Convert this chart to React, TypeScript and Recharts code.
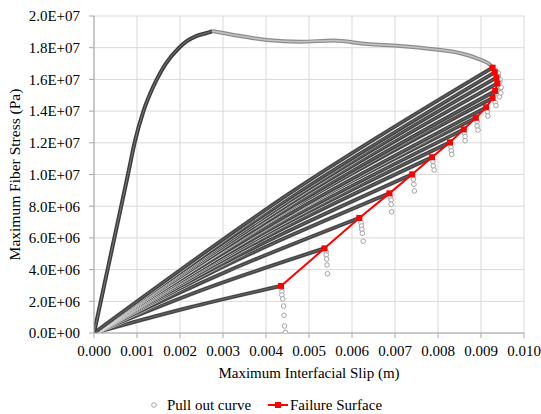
import { ComposedChart, Line, XAxis, YAxis, CartesianGrid } from 'recharts';

// failure surface (red markers)
const failX = [0.00435, 0.00536, 0.00617, 0.00687, 0.0074, 0.00786, 0.00828, 0.0086, 0.00888, 0.00912, 0.00927, 0.00933, 0.00938, 0.00936, 0.00932, 0.00927];
const failY = [2.97e6, 5.34e6, 7.26e6, 8.81e6, 1.001e7, 1.109e7, 1.203e7, 1.285e7, 1.358e7, 1.424e7, 1.483e7, 1.527e7, 1.575e7, 1.611e7, 1.645e7, 1.674e7];

// mid points of the reloading branches (origin -> failure point)
const fanMidX = [0.0022, 0.0027, 0.0031, 0.0034, 0.0037, 0.0039, 0.0041, 0.0043, 0.0044, 0.0046, 0.0046, 0.0047, 0.0047, 0.0047, 0.0047, 0.0046];
const fanMidY = [1.6e6, 2.9e6, 3.9e6, 4.7e6, 5.35e6, 5.9e6, 6.4e6, 6.85e6, 7.25e6, 7.6e6, 7.9e6, 8.15e6, 8.4e6, 8.6e6, 8.78e6, 8.9e6];

// initial loading branch and post-peak envelope
const riseX = [0, 0.000158, 0.000316, 0.000474, 0.000633, 0.00079, 0.000944, 0.00115, 0.00129, 0.00146, 0.00167, 0.00198, 0.00215, 0.00239, 0.00265, 0.00275];
const riseY = [0, 2.0e6, 4.0e6, 6.0e6, 8.0e6, 1.0e7, 1.2e7, 1.4e7, 1.5e7, 1.6e7, 1.7e7, 1.8e7, 1.84e7, 1.875e7, 1.895e7, 1.905e7];
const topX = [0.00275, 0.00325, 0.00402, 0.0048, 0.00557, 0.00635, 0.00712, 0.0079, 0.00852, 0.0089, 0.00922, 0.00927];
const topY = [1.905e7, 1.88e7, 1.849e7, 1.838e7, 1.845e7, 1.823e7, 1.811e7, 1.79e7, 1.765e7, 1.733e7, 1.69e7, 1.674e7];

// stress drop after each failure (sparse circles)
const dropX = [
  0.00437, 0.00437, 0.00439, 0.00441, 0.00442, 0.00443, 0.00445,
  0.0054, 0.0054, 0.00541, 0.00542, 0.00543,
  0.00621, 0.00622, 0.00623, 0.00624, 0.00626,
  0.00689, 0.00691, 0.00691, 0.00692,
  0.00743, 0.00744, 0.00745,
  0.00788, 0.00789, 0.00791,
  0.0083, 0.00831, 0.00832,
  0.00862, 0.00863, 0.00863,
  0.00891, 0.00891, 0.00893,
  0.00915, 0.00916,
  0.00933, 0.00935,
  0.0094, 0.00943,
  0.00945, 0.00946,
  0.00944, 0.00947,
  0.0094, 0.00944,
  0.00934, 0.0094,
];
const dropY = [
  2.61e6, 2.4e6, 2.15e6, 1.7e6, 1.12e6, 0.44e6, 0.04e6,
  5.13e6, 4.92e6, 4.67e6, 4.29e6, 3.74e6,
  6.96e6, 6.75e6, 6.54e6, 6.29e6, 5.79e6,
  8.6e6, 8.39e6, 8.12e6, 7.65e6,
  9.7e6, 9.38e6, 8.96e6,
  1.081e7, 1.054e7, 1.028e7,
  1.172e7, 1.15e7, 1.127e7,
  1.26e7, 1.239e7, 1.213e7,
  1.333e7, 1.306e7, 1.28e7,
  1.396e7, 1.369e7,
  1.455e7, 1.435e7,
  1.505e7, 1.49e7,
  1.545e7, 1.515e7,
  1.585e7, 1.55e7,
  1.622e7, 1.6e7,
  1.655e7, 1.64e7,
];

const xTicks = [0, 0.001, 0.002, 0.003, 0.004, 0.005, 0.006, 0.007, 0.008, 0.009, 0.01];
const yTicks = [0, 2e6, 4e6, 6e6, 8e6, 1e7, 1.2e7, 1.4e7, 1.6e7, 1.8e7, 2e7];

const zip = (xs: number[], ys: number[]) => xs.map((x, i) => ({ x, y: ys[i] }));

const failData = zip(failX, failY);
const fans = failX.map((x, i) => [
  { x: 0, y: 0 },
  { x: fanMidX[i], y: fanMidY[i] },
  { x, y: failY[i] },
]);
const riseData = zip(riseX, riseY);
const topData = zip(topX, topY);
const dropData = zip(dropX, dropY);

const sciFmt = (v: number) => {
  const [m, e] = v.toExponential(1).split('e');
  const sign = e[0] === '-' ? '-' : '+';
  const digits = e.replace(/[+-]/, '').padStart(2, '0');
  return `${m}E${sign}${digits}`;
};

const font = "'Liberation Serif', 'Times New Roman', Times, 'DejaVu Serif', serif";
const tickStyle = { fontSize: 15, fill: '#000', fontFamily: font };

const SquareDot = (props: any) => {
  const { cx, cy, index } = props;
  return <rect key={`sq-${index}`} x={cx - 3} y={cy - 3} width={6} height={6} fill="#ff0000" />;
};

export default function App() {
  return (
    <div style={{ position: 'absolute', left: 0, top: 0, width: 541, height: 414, background: '#fff', fontFamily: font }}>
      <ComposedChart width={541} height={414} margin={{ top: 16, right: 17, bottom: 31, left: 0 }} style={{ fontFamily: font }}>
        <CartesianGrid stroke="#d9d9d9" />
        <XAxis
          type="number"
          dataKey="x"
          domain={[0, 0.01]}
          ticks={xTicks}
          tickFormatter={(v: number) => v.toFixed(3)}
          tick={tickStyle}
          tickSize={5}
          tickMargin={7}
          stroke="#a6a6a6"
          height={50}
          allowDataOverflow
          label={{ value: 'Maximum Interfacial Slip (m)', position: 'insideBottom', offset: 5, style: { fontSize: 15, fill: '#000', fontFamily: font } }}
        />
        <YAxis
          type="number"
          dataKey="y"
          domain={[0, 2e7]}
          ticks={yTicks}
          tickFormatter={sciFmt}
          tick={tickStyle}
          tickSize={5}
          tickMargin={9}
          stroke="#a6a6a6"
          width={94}
          allowDataOverflow
          label={{ value: 'Maximum Fiber Stress (Pa)', angle: -90, position: 'insideLeft', offset: 14, style: { textAnchor: 'middle', fontSize: 15.5, fill: '#000', fontFamily: font } }}
        />
        {fans.flatMap((d, i) => [
          <Line key={`halo-${i}`} data={d} dataKey="y" type="monotone" stroke="#e6e6e6" strokeWidth={4.8} dot={false} isAnimationActive={false} />,
          <Line key={`band-${i}`} data={d} dataKey="y" type="monotone" stroke="#444444" strokeWidth={3.8} dot={false} isAnimationActive={false} />,
          <Line key={`core-${i}`} data={d} dataKey="y" type="monotone" stroke="#6e6e6e" strokeWidth={0.8} dot={false} isAnimationActive={false} />,
        ])}
        <Line data={riseData} dataKey="y" type="monotone" stroke="#3d3d3d" strokeWidth={4} dot={false} isAnimationActive={false} />
        <Line data={riseData} dataKey="y" type="monotone" stroke="#7a7a7a" strokeWidth={1} dot={false} isAnimationActive={false} />
        <Line data={topData} dataKey="y" type="monotone" stroke="#8c8c8c" strokeWidth={4} dot={false} isAnimationActive={false} />
        <Line data={topData} dataKey="y" type="monotone" stroke="#c4c4c4" strokeWidth={1.5} dot={false} isAnimationActive={false} />
        <Line
          data={dropData}
          dataKey="y"
          stroke="none"
          strokeWidth={0}
          dot={{ r: 2.3, stroke: '#9a9a9a', strokeWidth: 0.9, fill: '#fff' }}
          isAnimationActive={false}
        />
        <Line data={failData} dataKey="y" stroke="#ff0000" strokeWidth={2} dot={<SquareDot />} isAnimationActive={false} />
      </ComposedChart>
      <div style={{ position: 'absolute', top: 396, left: 0, width: 541, height: 18, fontSize: 15, color: '#000', fontFamily: font }}>
        <svg width={541} height={18} style={{ position: 'absolute', left: 0, top: 0 }}>
          <circle cx={154} cy={9} r={2.3} fill="#fff" stroke="#9a9a9a" strokeWidth={0.9} />
          <line x1={268} y1={9} x2={288} y2={9} stroke="#ff0000" strokeWidth={2} />
          <rect x={275} y={6} width={6} height={6} fill="#ff0000" />
        </svg>
        <span style={{ position: 'absolute', left: 167, top: 0, lineHeight: '18px' }}>Pull out curve</span>
        <span style={{ position: 'absolute', left: 290, top: 0, lineHeight: '18px' }}>Failure Surface</span>
      </div>
    </div>
  );
}
